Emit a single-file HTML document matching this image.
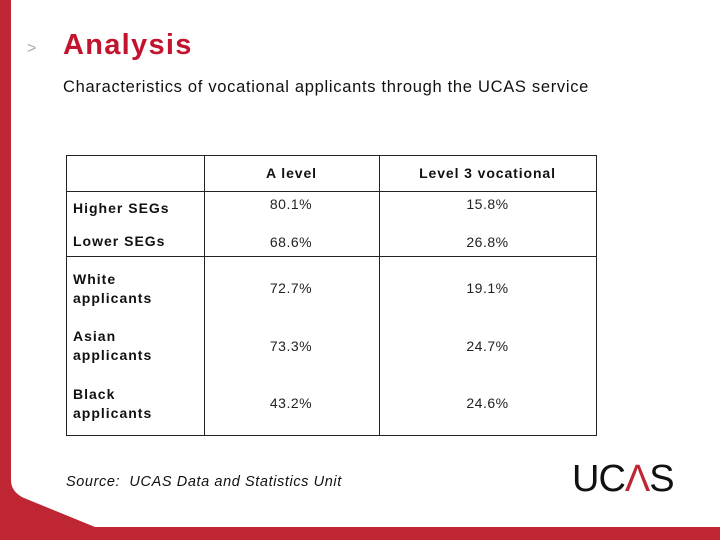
<!DOCTYPE html>
<html><head><meta charset="utf-8"><style>
body{margin:0;width:720px;height:540px;position:relative;overflow:hidden;background:#fff;font-family:"Liberation Sans",sans-serif}
.a{position:absolute;white-space:nowrap}
.lbl{font-weight:bold;font-size:14px;color:#111;line-height:19px;left:73px;letter-spacing:1px}
.val{font-size:14px;color:#222;width:174px;text-align:center;letter-spacing:0.5px}
.hd{font-weight:bold;font-size:14px;color:#111;text-align:center;letter-spacing:0.9px}
.ln{position:absolute;background:#222}
</style></head><body>
<svg class="a" style="left:0;top:0" width="720" height="540">
<path d="M0 0 H11 V480 Q11 492 24 498 L95 527 H720 V540 H0 Z" fill="#bf2634"/>
</svg>
<div class="a" style="left:27px;top:40px;font-size:16px;color:#aaa">&gt;</div>
<div class="a" style="left:63px;top:29px;font-size:29px;font-weight:bold;color:#c2132f;letter-spacing:1.3px">Analysis</div>
<div class="a" style="left:63px;top:78px;font-size:16.5px;color:#111;letter-spacing:0.7px">Characteristics of vocational applicants through the UCAS service</div>
<div id="tbl">
<div class="ln" style="left:66px;top:155px;width:531px;height:1px"></div>
<div class="ln" style="left:66px;top:191px;width:531px;height:1px"></div>
<div class="ln" style="left:66px;top:256px;width:531px;height:1px"></div>
<div class="ln" style="left:66px;top:435px;width:531px;height:1px"></div>
<div class="ln" style="left:66px;top:155px;width:1px;height:281px"></div>
<div class="ln" style="left:204px;top:155px;width:1px;height:281px"></div>
<div class="ln" style="left:379px;top:155px;width:1px;height:281px"></div>
<div class="ln" style="left:596px;top:155px;width:1px;height:281px"></div>
<div class="a hd" style="left:204px;top:165px;width:175px">A level</div>
<div class="a hd" style="left:379px;top:165px;width:217px">Level 3 vocational</div>
</div>
<div class="a" style="left:66px;top:474px;font-size:14.5px;font-style:italic;color:#111;letter-spacing:0.6px">Source:&nbsp; UCAS Data and Statistics Unit</div>
<div class="a" style="left:572px;top:458px;font-size:38px;color:#111;letter-spacing:-1px">UC<span style="color:#bf2634">Λ</span>S</div>
<script>
const categories=["Higher SEGs","Lower SEGs","White applicants","Asian applicants","Black applicants"];
const aLevel=[80.1,68.6,72.7,73.3,43.2];
const level3=[15.8,26.8,19.1,24.7,24.6];
const rowLabelTops=[199,232,270,327,385];
const rowValTops=[196,234,280,338,395];
const t=document.body;
categories.forEach((c,i)=>{
 const l=document.createElement('div');
 l.className='a lbl';
 l.style.top=rowLabelTops[i]+'px';
 l.style.width=i>1?'90px':'130px';l.style.whiteSpace=i>1?'normal':'nowrap';
 l.textContent=c;
 
 
 t.appendChild(l);
 const v1=document.createElement('div');
 v1.className='a val';v1.style.left='204px';v1.style.top=rowValTops[i]+'px';
 v1.textContent=aLevel[i].toFixed(1)+'%';
 
 
 t.appendChild(v1);
 const v2=document.createElement('div');
 v2.className='a val';v2.style.left='379px';v2.style.width='217px';v2.style.top=rowValTops[i]+'px';
 v2.textContent=level3[i].toFixed(1)+'%';
 
 
 t.appendChild(v2);
});
</script>
</body></html>
